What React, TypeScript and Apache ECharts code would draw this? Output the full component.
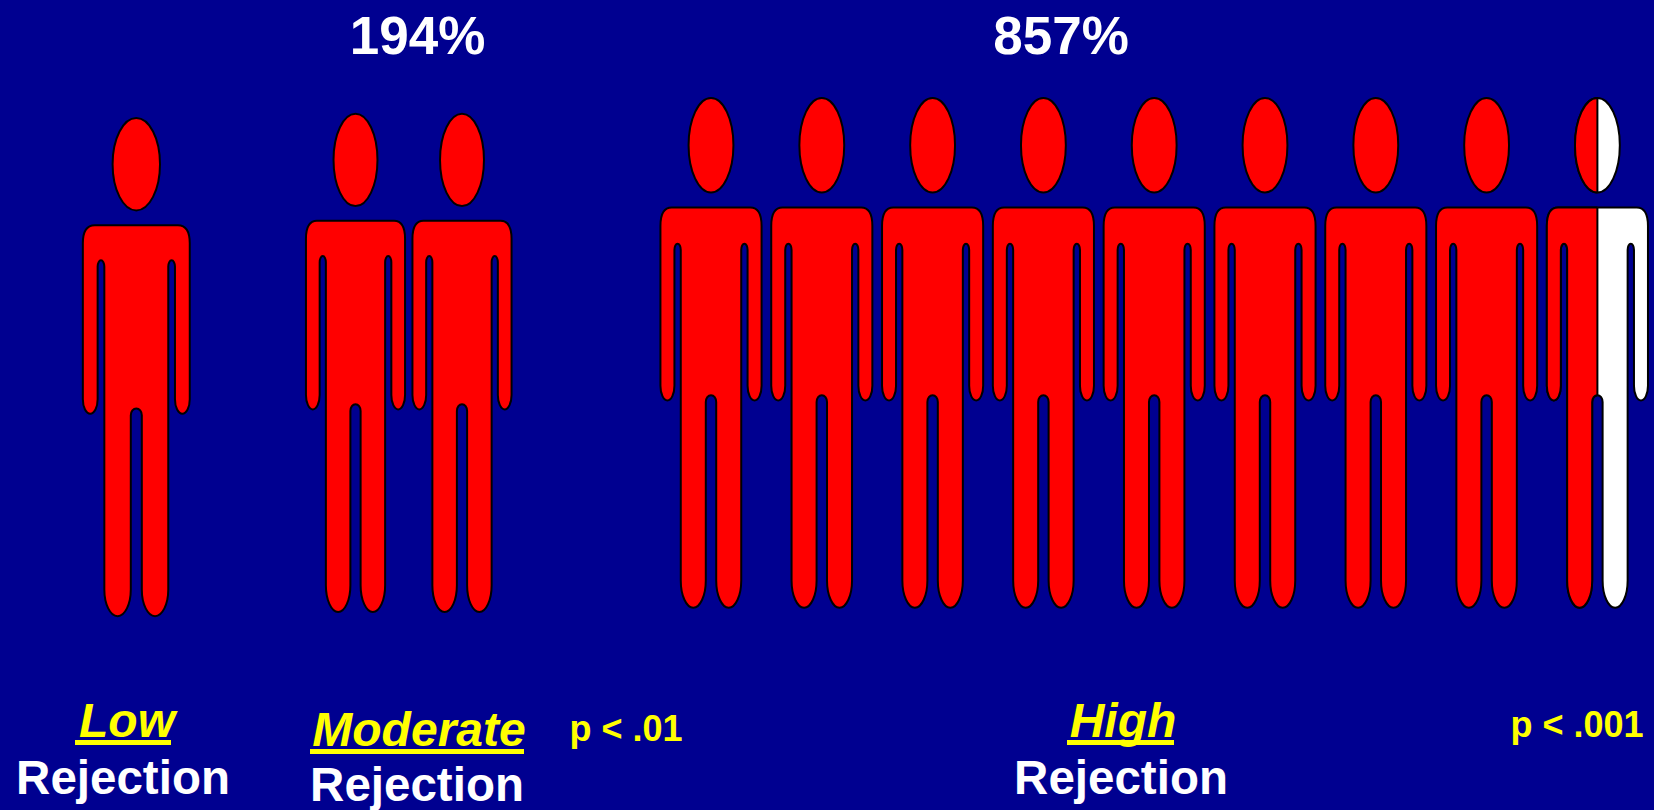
import React, { useEffect, useRef } from "react";
import * as echarts from "echarts";

// Groups and what is stated about each of them
const levels = ["Low", "Moderate", "High"];
const figureCounts = [1, 2, 8.5];
const percentLabels = ["", "194%", "857%"];
const pValueLabels = ["", "p < .01", "p < .001"];
const rowLabel = "Rejection";

// Plot frame of each group, and how much of a slot one figure fills
const frames = [
  { left: 82.3, width: 108, top: 118, height: 499.5, fill: 1.0 },
  { left: 302.25, width: 213, top: 113.7, height: 499.5, fill: 0.94 },
  { left: 655.6, width: 997.2, top: 98, height: 511, fill: 0.922 },
];

// Text placement per group: [centre x, baseline y]
const percentPos = [[0, 0], [417.5, 50.5], [1061, 50.5]];
const levelPos = [[127, 734], [419, 743], [1123, 734]];
const underlines = [[75, 171, 740], [310, 524, 749], [1067, 1174, 740]];
const rowPos = [[123, 791.5], [417, 798.5], [1121, 791.5]];
const pPos = [[0, 0], [626, 738.5], [1577, 734.5]];

const BG = "#000090";
const RED = "#ff0000";
const FONT = '"Liberation Sans", Arial, sans-serif';

// Half-ellipse end of a limb: runs from (xa, y) to (xb, y), bulging by depth
function limbEnd(xa: number, xb: number, y: number, depth: number) {
  const k = 0.5523;
  const xm = (xa + xb) / 2;
  const rx = (xb - xa) / 2;
  const ye = y + depth;
  return (
    `C${xa} ${y + depth * k} ${xm - rx * k} ${ye} ${xm} ${ye}` +
    `C${xm + rx * k} ${ye} ${xb} ${y + depth * k} ${xb} ${y}`
  );
}

// Outline of one standing figure, centred on cx, with its feet on y0 + h
function bodyPath(cx: number, y0: number, w: number, h: number) {
  const X = (f: number) => cx + f * w;
  const Y = (f: number) => y0 + f * h;
  const outer = 0.495;
  const armIn = 0.358;
  const torso = 0.296;
  const crotch = 0.051;
  const shoulder = Y(0.2145);
  const cornerX = 0.11 * w;
  const cornerY = 0.036 * h;
  const gapStart = Y(0.2975);
  const gapDepth = -0.0125 * h;
  const armEnd = Y(0.563);
  const armDepth = 0.029 * h;
  const crotchStart = Y(0.595);
  const crotchDepth = -0.0135 * h;
  const legEnd = Y(0.944);
  const legDepth = 0.0535 * h;
  return [
    `M${X(-outer) + cornerX} ${shoulder}`,
    `L${X(outer) - cornerX} ${shoulder}`,
    `Q${X(outer)} ${shoulder} ${X(outer)} ${shoulder + cornerY}`,
    `L${X(outer)} ${armEnd}`,
    limbEnd(X(outer), X(armIn), armEnd, armDepth),
    `L${X(armIn)} ${gapStart}`,
    limbEnd(X(armIn), X(torso), gapStart, gapDepth),
    `L${X(torso)} ${legEnd}`,
    limbEnd(X(torso), X(crotch), legEnd, legDepth),
    `L${X(crotch)} ${crotchStart}`,
    limbEnd(X(crotch), X(-crotch), crotchStart, crotchDepth),
    `L${X(-crotch)} ${legEnd}`,
    limbEnd(X(-crotch), X(-torso), legEnd, legDepth),
    `L${X(-torso)} ${gapStart}`,
    limbEnd(X(-torso), X(-armIn), gapStart, gapDepth),
    `L${X(-armIn)} ${armEnd}`,
    limbEnd(X(-armIn), X(-outer), armEnd, armDepth),
    `L${X(-outer)} ${shoulder + cornerY}`,
    `Q${X(-outer)} ${shoulder} ${X(-outer) + cornerX} ${shoulder}`,
    "Z",
  ].join("");
}

// Renders one figure: value = [slot index, filled share of the figure]
function renderFigure(fillRatio: number) {
  return (_params: any, api: any) => {
    const slot = api.value(0);
    const share = api.value(1);
    const top = api.coord([slot + 0.5, 1]);
    const feet = api.coord([slot + 0.5, 0]);
    const w = api.size([1, 0])[0] * fillRatio;
    const h = feet[1] - top[1];
    const cx = top[0];
    const y0 = top[1];
    const stroke = { stroke: "#000", lineWidth: 2 };
    const d = bodyPath(cx, y0, w, h);
    const head = {
      cx,
      cy: y0 + 0.0925 * h,
      rx: 0.2195 * w,
      ry: 0.0925 * h,
    };
    const figure = (fill: string, clip?: any) => [
      { type: "ellipse", shape: head, style: { fill, ...stroke }, clipPath: clip },
      { type: "path", shape: { pathData: d }, style: { fill, ...stroke }, clipPath: clip },
    ];
    if (share >= 1) return { type: "group", children: figure(RED) };

    // Part-filled figure: white underneath, red up to the dividing line
    const edge = cx - 0.5 * w + share * w;
    const clip = { type: "rect", shape: { x: cx - w, y: y0 - 5, width: edge - cx + w, height: h + 10 } };
    const divider = (y1: number, y2: number) => ({
      type: "line",
      shape: { x1: edge, y1, x2: edge, y2 },
      style: { ...stroke },
    });
    return {
      type: "group",
      children: [
        ...figure("#fff"),
        ...figure(RED, clip),
        divider(head.cy - head.ry, head.cy + head.ry),
        divider(y0 + 0.2145 * h, y0 + 0.582 * h),
      ],
    };
  };
}

function figureRows(count: number) {
  const rows: number[][] = [];
  for (let i = 0; i < count; i++) rows.push([i, Math.min(1, count - i)]);
  return rows;
}

function label(text: string, x: number, baseline: number, size: number, fill: string, italic = false) {
  return {
    type: "text",
    x,
    // bottom-anchored text sits one descent below its baseline
    y: baseline + size * 0.212,
    silent: true,
    style: {
      text,
      fill,
      font: `${italic ? "italic " : ""}bold ${size}px ${FONT}`,
      textAlign: "center",
      verticalAlign: "bottom",
    },
  };
}

function buildOption() {
  const texts: any[] = [];
  levels.forEach((level, i) => {
    if (percentLabels[i]) {
      texts.push(label(percentLabels[i], percentPos[i][0], percentPos[i][1], 53, "#fff"));
    }
    texts.push(label(level, levelPos[i][0], levelPos[i][1], 48, "#ffff00", true));
    texts.push({
      type: "rect",
      silent: true,
      shape: { x: underlines[i][0], y: underlines[i][2], width: underlines[i][1] - underlines[i][0], height: 5 },
      style: { fill: "#ffff00" },
    });
    texts.push(label(rowLabel, rowPos[i][0], rowPos[i][1], 47.5, "#fff"));
    if (pValueLabels[i]) {
      texts.push(label(pValueLabels[i], pPos[i][0], pPos[i][1], 36, "#ffff00"));
    }
  });

  return {
    animation: false,
    backgroundColor: BG,
    tooltip: { show: false },
    grid: frames.map((f) => ({ left: f.left, top: f.top, width: f.width, height: f.height, containLabel: false })),
    xAxis: frames.map((_, i) => ({
      type: "value",
      gridIndex: i,
      min: 0,
      max: Math.ceil(figureCounts[i]),
      show: false,
    })),
    yAxis: frames.map((_, i) => ({ type: "value", gridIndex: i, min: 0, max: 1, show: false })),
    series: levels.map((level, i) => ({
      type: "custom",
      name: level,
      xAxisIndex: i,
      yAxisIndex: i,
      clip: false,
      silent: true,
      encode: { x: 0 },
      data: figureRows(figureCounts[i]),
      renderItem: renderFigure(frames[i].fill),
    })),
    graphic: { elements: texts },
  };
}

export default function App() {
  const ref = useRef<HTMLDivElement>(null);
  useEffect(() => {
    document.body.style.margin = "0";
    const chart = echarts.init(ref.current!, undefined, { renderer: "svg" });
    chart.setOption(buildOption() as any);
    return () => chart.dispose();
  }, []);
  return <div ref={ref} style={{ width: 1654, height: 810 }} />;
}
